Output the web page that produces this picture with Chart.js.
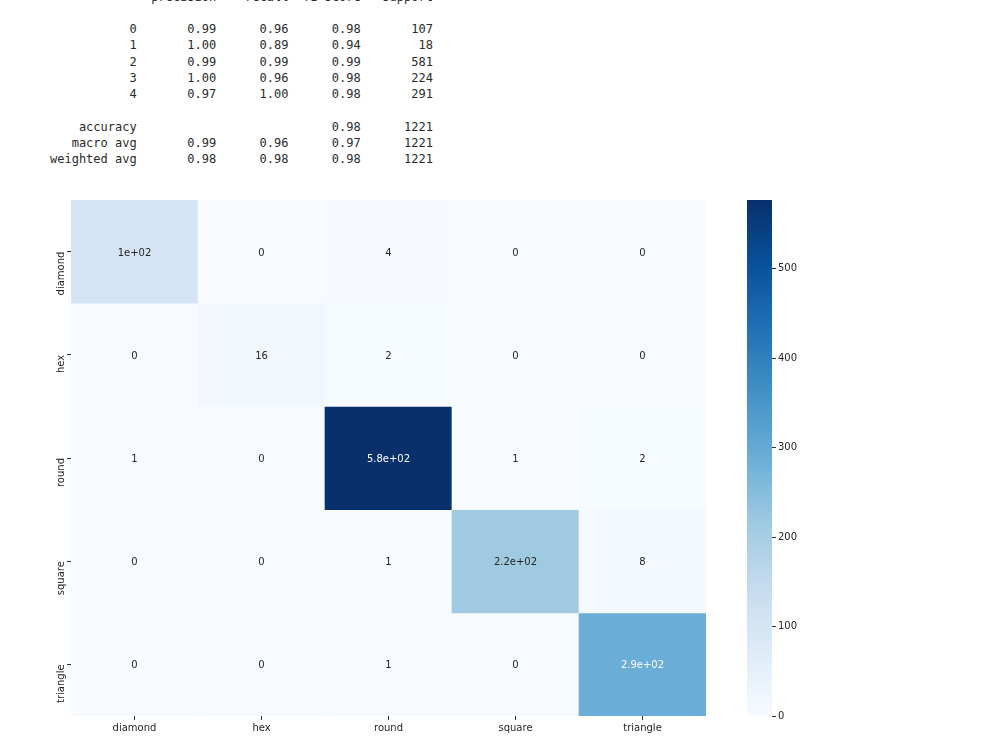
<!DOCTYPE html>
<html lang="en">
<head>
<meta charset="UTF-8">
<title>Confusion matrix</title>
<script src="https://cdn.jsdelivr.net/npm/chart.js"></script>
<style>
    body { margin: 0; background: #fff; width: 1000px; height: 750px; overflow: hidden; position: relative; }
    #report {
        position: absolute; left: 50px; top: -11.5px; margin: 0;
        font-family: 'DejaVu Sans Mono', monospace; font-size: 12px; line-height: 16.25px; color: #2a2a2a;
    }
    #heatBox { position: absolute; left: 0; top: 190px; width: 720px; height: 560px; }
    #barBox { position: absolute; left: 740px; top: 190px; width: 100px; height: 560px; }
</style>
</head>
<body>
<pre id="report"></pre>
<div id="heatBox"><canvas id="heatmap"></canvas></div>
<div id="barBox"><canvas id="colorbar"></canvas></div>

<script>
    // classes (rows = true, columns = predicted)
    const classes = ['diamond', 'hex', 'round', 'square', 'triangle'];
    const rowDiamond = [103, 0, 4, 0, 0];
    const rowHex = [0, 16, 2, 0, 0];
    const rowRound = [1, 0, 577, 1, 2];
    const rowSquare = [0, 0, 1, 215, 8];
    const rowTriangle = [0, 0, 1, 0, 290];
    const matrix = [rowDiamond, rowHex, rowRound, rowSquare, rowTriangle];

    // classification report
    const reportLabels = ['0', '1', '2', '3', '4'];
    const precision = [0.99, 1.00, 0.99, 1.00, 0.97];
    const recall = [0.96, 0.89, 0.99, 0.96, 1.00];
    const f1 = [0.98, 0.94, 0.99, 0.98, 0.98];
    const support = [107, 18, 581, 224, 291];
    const accuracy = 0.98;
    const macroAvg = [0.99, 0.96, 0.97];
    const weightedAvg = [0.98, 0.98, 0.98];
    const total = 1221;

    const colorbarTicks = [0, 100, 200, 300, 400, 500];

    // ---- report text, same layout as sklearn
    const pad = (s, n) => String(s).padStart(n);
    let txt = pad('', 12) + ' ' + ['precision', 'recall', 'f1-score', 'support'].map(h => ' ' + pad(h, 9)).join('') + '\n\n';
    for (let i = 0; i < reportLabels.length; i++) {
        txt += pad(reportLabels[i], 12) + ' ' +
            [precision[i], recall[i], f1[i]].map(v => ' ' + pad(v.toFixed(2), 9)).join('') +
            ' ' + pad(support[i], 9) + '\n';
    }
    txt += '\n';
    txt += pad('accuracy', 12) + ' ' + ' ' + pad('', 9) + ' ' + pad('', 9) + ' ' + pad(accuracy.toFixed(2), 9) + ' ' + pad(total, 9) + '\n';
    txt += pad('macro avg', 12) + ' ' + macroAvg.map(v => ' ' + pad(v.toFixed(2), 9)).join('') + ' ' + pad(total, 9) + '\n';
    txt += pad('weighted avg', 12) + ' ' + weightedAvg.map(v => ' ' + pad(v.toFixed(2), 9)).join('') + ' ' + pad(total, 9);
    document.getElementById('report').textContent = txt;

    // ---- Blues colormap
    const blues = ['#f7fbff', '#deebf7', '#c6dbef', '#9ecae1', '#6baed6', '#4292c6', '#2171b5', '#08519c', '#08306b'];
    const hex2rgb = h => [1, 3, 5].map(k => parseInt(h.substr(k, 2), 16));
    const vmax = Math.max(...matrix.flat());

    function bluesColor(v) {
        let t = Math.min(Math.max(v / vmax, 0), 1) * (blues.length - 1);
        let k = Math.min(Math.floor(t), blues.length - 2);
        let f = t - k;
        let a = hex2rgb(blues[k]), b = hex2rgb(blues[k + 1]);
        return a.map((c, i) => Math.round(c + (b[i] - c) * f));
    }
    const rgbStr = c => `rgb(${c[0]}, ${c[1]}, ${c[2]})`;

    function luminance(c) {
        const lin = c.map(x => { x /= 255; return x <= 0.03928 ? x / 12.92 : Math.pow((x + 0.055) / 1.055, 2.4); });
        return 0.2126 * lin[0] + 0.7152 * lin[1] + 0.0722 * lin[2];
    }

    // python '%.2g'
    function fmt2g(v) {
        if (v === 0) return '0';
        const e = Math.floor(Math.log10(Math.abs(v)));
        if (e >= 2 || e < -4) {
            let parts = v.toExponential(1).split('e');
            let m = parts[0].replace(/\.0$/, '');
            let ex = parseInt(parts[1], 10);
            return m + 'e' + (ex >= 0 ? '+' : '-') + String(Math.abs(ex)).padStart(2, '0');
        }
        return String(parseFloat(v.toPrecision(2)));
    }

    const tickFont = { family: 'DejaVu Sans', size: 10 };
    const textColor = '#262626';

    const annotate = {
        id: 'annotate',
        afterDatasetsDraw(chart) {
            const ctx = chart.ctx;
            ctx.save();
            ctx.font = '10px "DejaVu Sans"';
            ctx.textAlign = 'center';
            ctx.textBaseline = 'middle';
            matrix.forEach((row, i) => {
                const meta = chart.getDatasetMeta(i);
                meta.data.forEach((bar, j) => {
                    const c = bluesColor(row[j]);
                    ctx.fillStyle = luminance(c) > 0.408 ? textColor : '#ffffff';
                    ctx.fillText(fmt2g(row[j]), bar.x, (bar.y + bar.base) / 2 + 1.5);
                });
            });
            ctx.restore();
        }
    };

    new Chart(document.getElementById('heatmap'), {
        type: 'bar',
        data: {
            labels: classes,
            datasets: matrix.map((row, i) => ({
                label: classes[i],
                data: row.map(() => 1),
                backgroundColor: row.map(v => rgbStr(bluesColor(v))),
                borderWidth: 0,
                barPercentage: 1,
                categoryPercentage: 1
            }))
        },
        options: {
            responsive: true,
            maintainAspectRatio: false,
            animation: false,
            layout: { padding: { top: 10, left: 41, right: 14, bottom: 4 } },
            plugins: { legend: { display: false }, tooltip: { enabled: false } },
            scales: {
                x: {
                    stacked: true,
                    afterFit(scale) { scale.height = 30; scale.paddingLeft = 0; scale.paddingRight = 0; },
                    border: { display: false },
                    grid: { offset: false, drawOnChartArea: false, drawTicks: true, tickLength: 4, color: '#333' },
                    ticks: { font: tickFont, color: textColor, padding: 2, maxRotation: 0 }
                },
                y: {
                    stacked: true,
                    min: 0,
                    max: 5,
                    reverse: true,
                    afterFit(scale) { scale.width = 30; scale.paddingTop = 0; scale.paddingBottom = 0; },
                    afterBuildTicks(scale) { scale.ticks = classes.map((c, i) => ({ value: i + 0.5 })); },
                    border: { display: false },
                    grid: { drawOnChartArea: false, drawTicks: true, tickLength: 4, color: '#333' },
                    ticks: {
                        font: tickFont, color: textColor,
                        minRotation: 90, maxRotation: 90,
                        crossAlign: 'near', padding: 6,
                        callback: (v) => classes[Math.floor(v)]
                    }
                }
            }
        },
        plugins: [annotate]
    });

    new Chart(document.getElementById('colorbar'), {
        type: 'bar',
        data: {
            labels: [''],
            datasets: [{
                data: [vmax],
                borderWidth: 0,
                barPercentage: 1,
                categoryPercentage: 1,
                backgroundColor(context) {
                    const area = context.chart.chartArea;
                    if (!area) return blues[4];
                    const g = context.chart.ctx.createLinearGradient(0, area.bottom, 0, area.top);
                    blues.forEach((c, i) => g.addColorStop(i / (blues.length - 1), c));
                    return g;
                }
            }]
        },
        options: {
            responsive: true,
            maintainAspectRatio: false,
            animation: false,
            layout: { padding: { top: 10, left: 7, right: 0, bottom: 34 } },
            plugins: { legend: { display: false }, tooltip: { enabled: false } },
            scales: {
                x: { display: false },
                y: {
                    position: 'right',
                    min: 0,
                    max: vmax,
                    afterFit(scale) { scale.width = 68; scale.paddingTop = 0; scale.paddingBottom = 0; },
                    afterBuildTicks(scale) { scale.ticks = colorbarTicks.map(v => ({ value: v })); },
                    border: { display: false },
                    grid: { drawOnChartArea: false, drawTicks: true, tickLength: 4, color: '#333' },
                    ticks: { font: tickFont, color: textColor, padding: 2 }
                }
            }
        }
    });
</script>
</body>
</html>
